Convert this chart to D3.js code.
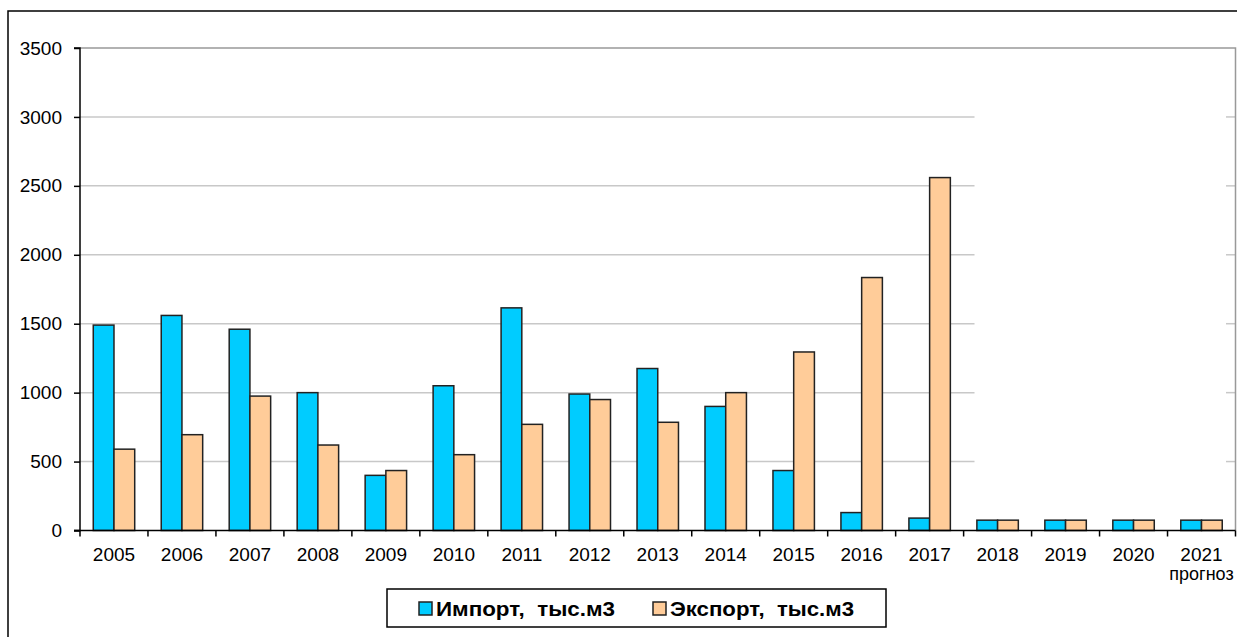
<!DOCTYPE html>
<html>
<head>
<meta charset="utf-8">
<script src="https://cdn.jsdelivr.net/npm/d3@7"></script>
<style>
  html, body { margin: 0; padding: 0; background: #fff; }
  svg { display: block; }
  text { font-family: "Liberation Sans", Arial, sans-serif; }
</style>
</head>
<body>
<svg id="chart" width="1237" height="637"></svg>
<script>
// ---- data ----
const years = ["2005","2006","2007","2008","2009","2010","2011","2012","2013","2014","2015","2016","2017","2018","2019","2020","2021"];
const yearSub = {"2021": "прогноз"};
const importVals = [1490, 1560, 1460, 1000, 400, 1050, 1615, 990, 1175, 900, 435, 130, 90, 75, 75, 75, 75];
const exportVals = [590, 695, 975, 620, 435, 550, 770, 950, 785, 1000, 1295, 1835, 2560, 75, 75, 75, 75];
const seriesNames = ["Импорт, тыс.м3", "Экспорт, тыс.м3"];
const seriesColors = ["#00ccff", "#ffcc99"];
const yTicks = [0, 500, 1000, 1500, 2000, 2500, 3000, 3500];

// ---- layout ----
const svg = d3.select("#chart");
const L = 80, R = 1235.5, T = 48, B = 530.5;
const font = 19;

// outer chart border
svg.append("path")
  .attr("d", `M8,640 L8,11 L1240,11`)
  .attr("fill", "none").attr("stroke", "#000").attr("stroke-width", 1.5);

const x0 = d3.scaleBand().domain(years).range([L, R]).paddingInner(0).paddingOuter(0);
const x1 = d3.scaleBand().domain([0, 1]).range([0, x0.bandwidth()]).paddingInner(0).paddingOuter(0.64);
const y = d3.scaleLinear().domain([0, 3500]).range([B, T]);

// gridlines (with the blank gap on the right side of the plot)
const gapStart = 974.5, gapEnd = 1226;
const grid = svg.append("g");
yTicks.filter(v => v > 0 && v < 3500).forEach(v => {
  grid.append("line").attr("x1", L).attr("x2", gapStart).attr("y1", y(v)).attr("y2", y(v))
    .attr("stroke", "#c8c8c8").attr("stroke-width", 1.5);
  grid.append("line").attr("x1", gapEnd).attr("x2", R).attr("y1", y(v)).attr("y2", y(v))
    .attr("stroke", "#c8c8c8").attr("stroke-width", 1.5);
});
// plot area top/right border
svg.append("path").attr("d", `M${L},${y(3500)} L${R},${y(3500)} L${R},${B}`)
  .attr("fill", "none").attr("stroke", "#999").attr("stroke-width", 1.5);

// bars
const groups = svg.append("g").selectAll("g").data(years).join("g")
  .attr("transform", d => `translate(${x0(d)},0)`);
groups.each(function(d, i) {
  const g = d3.select(this);
  [importVals[i], exportVals[i]].forEach((v, s) => {
    g.append("rect")
      .attr("x", x1(s)).attr("width", x1.bandwidth())
      .attr("y", y(v)).attr("height", y(0) - y(v))
      .attr("fill", seriesColors[s]).attr("stroke", "#222").attr("stroke-width", 1.5);
  });
});

// y axis
const yAxis = d3.axisLeft(y).tickValues(yTicks).tickSize(6).tickPadding(12).tickFormat(d3.format("d"));
const gy = svg.append("g").attr("transform", `translate(${L},0)`).call(yAxis);
gy.select(".domain").attr("stroke", "#000").attr("stroke-width", 1.5).attr("d", `M-6,${T}H0V${B}H-6`);
gy.selectAll(".tick line").attr("stroke", "#000").attr("stroke-width", 1.5);
gy.selectAll(".tick text").attr("font-size", font).attr("fill", "#000")
  .attr("font-family", '"Liberation Sans", Arial, sans-serif');

// x axis
const gx = svg.append("g").attr("transform", `translate(0,${B})`);
gx.append("line").attr("x1", L - 6).attr("x2", R).attr("y1", 0).attr("y2", 0)
  .attr("stroke", "#000").attr("stroke-width", 1.5);
years.forEach(yr => {
  gx.append("line").attr("x1", x0(yr)).attr("x2", x0(yr)).attr("y1", 0).attr("y2", 6)
    .attr("stroke", "#000").attr("stroke-width", 1.5);
});
gx.append("line").attr("x1", R).attr("x2", R).attr("y1", 0).attr("y2", 6)
  .attr("stroke", "#000").attr("stroke-width", 1.5);
years.forEach(yr => {
  const cx = x0(yr) + x0.bandwidth() / 2;
  gx.append("text").attr("x", cx).attr("y", 30).attr("text-anchor", "middle")
    .attr("font-size", font).attr("fill", "#000").text(yr);
  if (yearSub[yr]) {
    gx.append("text").attr("x", cx).attr("y", 49).attr("text-anchor", "middle")
      .attr("font-size", 18).attr("fill", "#000").text(yearSub[yr]);
  }
});

// legend
const lg = svg.append("g");
lg.append("rect").attr("x", 387).attr("y", 589).attr("width", 499).attr("height", 38)
  .attr("fill", "#fff").attr("stroke", "#000").attr("stroke-width", 1.5);
const legendX = [419, 653];
const legendTextLen = [179, 184];
seriesNames.forEach((name, s) => {
  lg.append("rect").attr("x", legendX[s]).attr("y", 602).attr("width", 13).attr("height", 13)
    .attr("fill", seriesColors[s]).attr("stroke", "#222").attr("stroke-width", 1.5);
  lg.append("text").attr("x", legendX[s] + 17).attr("y", 615.5)
    .attr("font-size", 20).attr("font-weight", "bold").attr("fill", "#000")
    .attr("textLength", legendTextLen[s]).attr("lengthAdjust", "spacingAndGlyphs")
    .style("white-space", "pre")
    .text(name.replace(", ", ",  "));
});
</script>
</body>
</html>
